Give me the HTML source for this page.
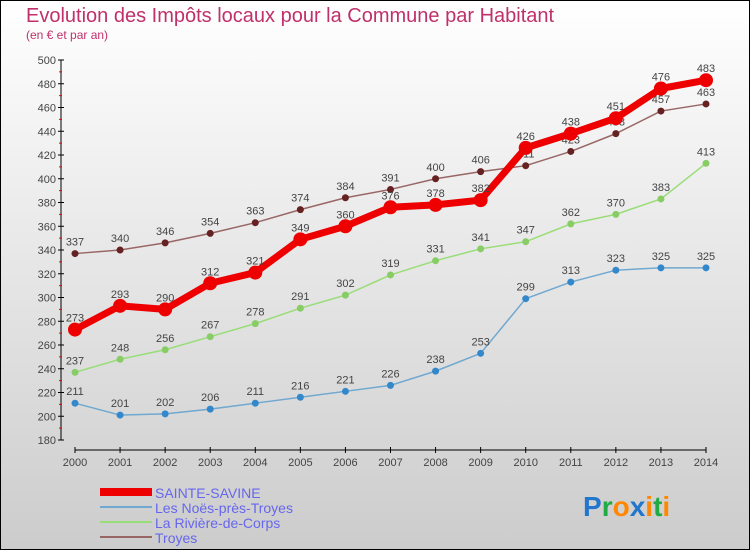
<!DOCTYPE html>
<html><head><meta charset="utf-8"><style>
body{margin:0;width:750px;height:550px;overflow:hidden;font-family:"Liberation Sans",sans-serif}
</style></head><body>
<svg width="750" height="550" xmlns="http://www.w3.org/2000/svg" id="svg">
<defs><linearGradient id="bg" x1="0" y1="0" x2="0" y2="1"><stop offset="0" stop-color="#ffffff"/><stop offset="1" stop-color="#cccccc"/></linearGradient></defs>
<rect x="0.5" y="0.5" width="749" height="549" fill="url(#bg)" stroke="#000" stroke-width="1"/>
<text x="26" y="22" font-size="20" fill="#c0306a">Evolution des Impôts locaux pour la Commune par Habitant</text>
<text x="26" y="39" font-size="12" fill="#c0306a">(en € et par an)</text>
<g id="axes"></g><g id="series"></g>
<g>
<rect x="100" y="488" width="52" height="8" fill="#ee0000"/>
<text x="155" y="498" font-size="14" fill="#6666ee">SAINTE-SAVINE</text>
<rect x="100" y="506" width="52" height="2" fill="#6fa8d0"/>
<text x="155" y="513" font-size="14" fill="#6666ee">Les Noës-près-Troyes</text>
<rect x="100" y="521" width="52" height="2" fill="#99dd77"/>
<text x="155" y="528" font-size="14" fill="#6666ee">La Rivière-de-Corps</text>
<rect x="100" y="536" width="52" height="2" fill="#996666"/>
<text x="155" y="543" font-size="14" fill="#6666ee">Troyes</text>
</g>
<text x="583" y="516" font-size="28" font-weight="bold"><tspan fill="#2277cc">P</tspan><tspan fill="#22aa44">r</tspan><tspan fill="#ff8800">o</tspan><tspan fill="#2277cc">x</tspan><tspan fill="#ff8800">i</tspan><tspan fill="#22aa44">t</tspan><tspan fill="#ff8800">i</tspan></text>
</svg>
<script>
const years=[2000,2001,2002,2003,2004,2005,2006,2007,2008,2009,2010,2011,2012,2013,2014];
const yTicks=[180,200,220,240,260,280,300,320,340,360,380,400,420,440,460,480,500];
const sainteSavine=[273,293,290,312,321,349,360,376,378,382,426,438,451,476,483];
const noes=[211,201,202,206,211,216,221,226,238,253,299,313,323,325,325];
const riviere=[237,248,256,267,278,291,302,319,331,341,347,362,370,383,413];
const troyes=[337,340,346,354,363,374,384,391,400,406,411,423,438,457,463];
const NS="http://www.w3.org/2000/svg";
const xs=i=>75+i*(706-75)/(years.length-1);
const ys=v=>440-(v-180)*380/320;
function el(t,a,p){const e=document.createElementNS(NS,t);for(const k in a)e.setAttribute(k,a[k]);p.appendChild(e);return e;}
const ax=document.getElementById('axes'),se=document.getElementById('series');
const yl=el('line',{x1:61,y1:60,x2:61,y2:440,stroke:'#000'},ax);


yTicks.forEach((v,i)=>{
 el('line',{x1:58,x2:64,y1:ys(v),y2:ys(v),stroke:'#000'},ax);
 if(i<yTicks.length-1)el('line',{x1:59,x2:62,y1:ys(v+10),y2:ys(v+10),stroke:'#e00'},ax);
 const t=el('text',{x:56,y:ys(v)+4,'font-size':11,fill:'#444','text-anchor':'end'},ax);t.textContent=v;
 
 
});
const xl=el('line',{x1:75,y1:450,x2:706,y2:450,stroke:'#000'},ax);


years.forEach((y,i)=>{
 el('line',{x1:xs(i),x2:xs(i),y1:447,y2:453,stroke:'#000'},ax);
 const t=el('text',{x:xs(i),y:466,'font-size':11,fill:'#444','text-anchor':'middle'},ax);t.textContent=y;
 
 
});
function series(d,name,col,dot,lw,r,below){
 const g=el('g',{},se);
 
 
 el('polyline',{points:d.map((v,i)=>xs(i)+','+ys(v)).join(' '),fill:'none',stroke:col,'stroke-width':lw,'stroke-linejoin':'round'},g);
 d.forEach((v,i)=>{
  const c=el('circle',{cx:xs(i),cy:ys(v),r:r,fill:dot},g);
  
  
  const t=el('text',{x:xs(i),y:ys(v)+(below?18:-8),'font-size':11,fill:'#444','text-anchor':'middle'},g);t.textContent=v;
  
  
 });
}
series(noes,'noes','#6fa8d0','#3388cc',1.5,3.5,false);
series(riviere,'riviere','#99dd77','#88cc66',1.5,3.5,false);
series(troyes,'troyes','#996666','#662222',1.5,3.5,false);
series(sainteSavine,'sainte-savine','#ee0000','#ee0000',7,7,false);
</script>
</body></html>
